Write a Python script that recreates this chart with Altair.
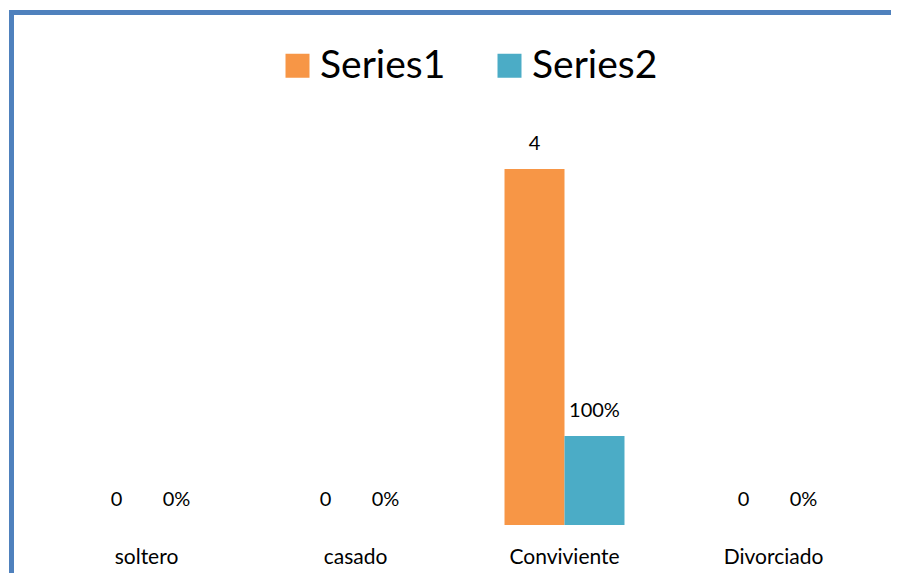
import altair as alt
import pandas as pd

categories = ["soltero", "casado", "Conviviente", "Divorciado"]
series1 = [0, 0, 4, 0]
series2 = [0, 0, 1, 0]  # shown as percentage
series_names = ["Series1", "Series2"]
colors = ["#F79646", "#4BACC6"]

rows = []
for c, v1, v2 in zip(categories, series1, series2):
    rows.append({"cat": c, "series": "Series1", "value": v1, "label": f"{v1}"})
    rows.append({"cat": c, "series": "Series2", "value": v2, "label": f"{int(round(v2 * 100))}%"})
df = pd.DataFrame(rows)

FONT = "Lato"

x = alt.X(
    "cat:N",
    sort=categories,
    scale=alt.Scale(paddingInner=0.426, paddingOuter=0.213),
    axis=alt.Axis(
        title=None, domain=False, ticks=False, grid=False,
        labelFont=FONT, labelFontSize=21, labelColor="#000000",
        labelAngle=0, labelBaseline="middle", labelPadding=32,
    ),
)
y = alt.Y("value:Q", scale=alt.Scale(domain=[0, 5], nice=False), axis=None)
xoff = alt.XOffset("series:N", sort=series_names, scale=alt.Scale(paddingInner=0, paddingOuter=0))

bars = alt.Chart(df).mark_bar(size=60).encode(
    x=x,
    y=y,
    xOffset=xoff,
    color=alt.Color(
        "series:N",
        scale=alt.Scale(domain=series_names, range=colors),
        legend=alt.Legend(
            title=None, orient="none", direction="horizontal",
            legendX=236, legendY=-34,
            symbolType="square", symbolSize=576, symbolStrokeWidth=0,
            labelFont=FONT, labelFontSize=39, labelColor="#000000",
            labelOffset=3, columnPadding=44, labelLimit=300,
        ),
    ),
)

labels = alt.Chart(df).mark_text(
    font=FONT, fontSize=20, color="#000000", baseline="middle", align="center", dy=-25
).encode(x=x, y=y, xOffset=xoff, text="label:N")

frame_top = alt.Chart(df).mark_rule(color="#4F81BD", strokeWidth=5).encode(
    x=alt.value(-33), x2=alt.value(900), y=alt.value(-67.5)
)
frame_left = alt.Chart(df).mark_rule(color="#4F81BD", strokeWidth=5).encode(
    x=alt.value(-30.5), y=alt.value(-70), y2=alt.value(600)
)

chart = alt.layer(frame_top, frame_left, bars, labels).properties(
    width=836,
    height=445,
    padding={"left": 34, "top": 72, "right": 13, "bottom": 48},
    autosize=alt.AutoSizeParams(type="none"),
    background="#FFFFFF",
).configure_view(strokeWidth=0, stroke="transparent")

chart.save("out.html", embed_options={"renderer": "svg", "actions": False})
